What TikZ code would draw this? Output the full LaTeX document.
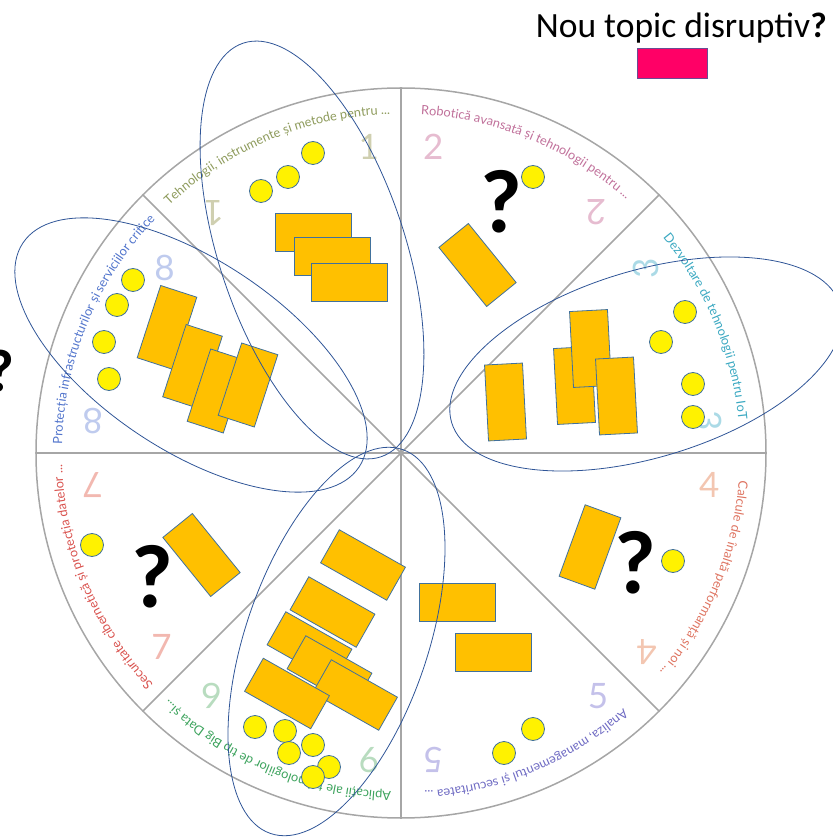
\documentclass[tikz,border=0pt]{standalone}
\usepackage{fontspec}
\setmainfont{Carlito}
\newfontfamily\arcfont{Lato}
\usetikzlibrary{shapes.geometric,decorations.text}

\definecolor{wheel}{HTML}{A6A6A6}
\definecolor{edge}{HTML}{41719C}
\definecolor{gold}{HTML}{FFC000}
\definecolor{petal}{HTML}{2F5597}
\definecolor{hot}{HTML}{FF0066}
\definecolor{hotedge}{HTML}{6A4C93}
\definecolor{tA}{HTML}{8E9B5C}
\definecolor{tB}{HTML}{C0709A}
\definecolor{tC}{HTML}{3AA8C1}
\definecolor{tD}{HTML}{DE7461}
\definecolor{tE}{HTML}{6F6BC3}
\definecolor{tF}{HTML}{3DA35D}
\definecolor{tG}{HTML}{D9534F}
\definecolor{tH}{HTML}{5275CC}
\definecolor{nA}{HTML}{CFCFB0}
\definecolor{nB}{HTML}{E6BCD0}
\definecolor{nC}{HTML}{ABDAE6}
\definecolor{nD}{HTML}{F3C6B1}
\definecolor{nE}{HTML}{C4C1EA}
\definecolor{nF}{HTML}{B8DCBF}
\definecolor{nG}{HTML}{F2B8B0}
\definecolor{nH}{HTML}{BFCBEE}

\tikzset{
  proj/.style={draw=edge, fill=gold, line width=0.8pt, minimum width=76pt, minimum height=38pt, inner sep=0pt},
  projv/.style={proj, minimum width=38pt, minimum height=76pt},
  spot/.style={circle, draw=edge, fill=yellow, line width=0.8pt, minimum size=23pt, inner sep=0pt},
  ask/.style={font=\fontsize{90}{90}\selectfont\bfseries, inner sep=0pt},
  num/.style={font=\arcfont\fontsize{35}{35}\selectfont, inner sep=0pt},
  petalring/.style={ellipse, draw=petal, line width=0.8pt, inner sep=0pt},
  spoke/.style={draw=wheel, line width=1.5pt},
}

\newcommand{\sectortext}[3]{%
  \path[decorate, decoration={text along path, text align=center,
      text={|\arcfont\fontsize{12.8}{14}\selectfont\color{#2}|#3}}]
    (#1+22.5:339) arc[start angle=#1+22.5, end angle=#1-22.5, radius=339];}

\begin{document}
\begin{tikzpicture}[x=1pt, y=1pt]
  \useasboundingbox (-401,-384) rectangle (431,453);

  \coordinate (hub) at (0,0);
  \draw[spoke] (hub) circle[radius=365];
  \foreach \a in {0,45,...,315}
    \draw[spoke] (hub) -- (\a:365);

  \sectortext{112.5}{tA}{Tehnologii, instrumente și metode pentru ...}
  \sectortext{67.5}{tB}{Robotică avansată și tehnologii pentru ...}
  \sectortext{22.5}{tC}{Dezvoltare de tehnologii pentru IoT}
  \sectortext{-22.5}{tD}{Calcule de înaltă performanță și noi ...}
  \sectortext{-67.5}{tE}{Analiza, managementul și securitatea ...}
  \sectortext{-112.5}{tF}{Aplicații ale tehnologiilor de tip Big Data și...}
  \sectortext{-157.5}{tG}{Securitate cibernetică și protecția datelor ...}
  \sectortext{157.5}{tH}{Protecția infrastructurilor și serviciilor critice}

  \node[num, text=nA]             (n1a) at (96:308)  {1};
  \node[num, text=nA, rotate=180] (n1b) at (128:304) {1};
  \node[num, text=nB]             (n2a) at (84:308)  {2};
  \node[num, text=nB, rotate=180] (n2b) at (51:310)  {2};
  \node[num, text=nC, rotate=90]  (n3a) at (37:307)  {3};
  \node[num, text=nC, rotate=-90] (n3b) at (6:310)   {3};
  \node[num, text=nD]             (n4a) at (-6:310)  {4};
  \node[num, text=nD, rotate=180] (n4b) at (-39:316) {4};
  \node[num, text=nE]             (n5a) at (-51:313) {5};
  \node[num, text=nE, rotate=180] (n5b) at (-84:309) {5};
  \node[num, text=nF]             (n6a) at (-96:309) {6};
  \node[num, text=nF, rotate=180] (n6b) at (-128:308) {6};
  \node[num, text=nG]             (n7a) at (-141:308) {7};
  \node[num, text=nG, rotate=180] (n7b) at (-174:310) {7};
  \node[num, text=nH]             (n8a) at (142:300) {8};
  \node[num, text=nH, rotate=180] (n8b) at (174:310) {8};

  \node[proj]                (r1a) at (-87.5,220.5) {};
  \node[proj]                (r1b) at (-68.5,196.5) {};
  \node[proj]                (r1c) at (-52,170.5)   {};
  \node[spot]                (d1a) at (-88,300)     {};
  \node[spot]                (d1b) at (-113,276)    {};
  \node[spot]                (d1c) at (-140,262)    {};

  \node[proj, rotate=-51]    (r2a) at (76.5,188)    {};
  \node[spot]                (d2a) at (132,276)     {};
  \node[ask]                 (q2)  at (100,251)     {?};

  \node[projv, rotate=3]     (r3a) at (104.5,51)    {};
  \node[projv, rotate=3]     (r3b) at (173.5,67.5)  {};
  \node[projv, rotate=3]     (r3c) at (189.5,104.5) {};
  \node[projv, rotate=3]     (r3d) at (215.5,57)    {};
  \node[spot]                (d3a) at (284,141)     {};
  \node[spot]                (d3b) at (260,111)     {};
  \node[spot]                (d3c) at (292,69)      {};
  \node[spot]                (d3d) at (292,36)      {};

  \node[projv, rotate=-20]   (r4a) at (189,-94)     {};
  \node[ask]                 (q4)  at (234,-110)    {?};
  \node[spot]                (d4a) at (272,-108)    {};

  \node[proj]                (r5a) at (56.5,-149.5) {};
  \node[proj]                (r5b) at (92.5,-199.5) {};
  \node[spot]                (d5a) at (132,-276)    {};
  \node[spot]                (d5b) at (103,-300)    {};

  \node[proj, rotate=-29.5]  (r6a) at (-38,-112)    {};
  \node[proj, rotate=-29.5]  (r6b) at (-68.5,-159)  {};
  \node[proj, rotate=-29.5]  (r6c) at (-91.5,-194)  {};
  \node[proj, rotate=-29.5]  (r6d) at (-71.5,-218)  {};
  \node[proj, rotate=-29.5]  (r6e) at (-46,-242)    {};
  \node[proj, rotate=-29.5]  (r6f) at (-114,-240.5) {};
  \node[spot]                (d6a) at (-146,-274)   {};
  \node[spot]                (d6b) at (-116,-278)   {};
  \node[spot]                (d6c) at (-88,-292)    {};
  \node[spot]                (d6d) at (-112,-300)   {};
  \node[spot]                (d6e) at (-72,-314)    {};
  \node[spot]                (d6f) at (-88,-324)    {};

  \node[proj, rotate=-51]    (r7a) at (-199.5,-102) {};
  \node[spot]                (d7a) at (-309,-92)    {};
  \node[ask]                 (q7)  at (-249,-124)   {?};

  \node[projv, rotate=-18]   (r8a) at (-234,125.5)  {};
  \node[projv, rotate=-18]   (r8b) at (-208.5,86.5) {};
  \node[projv, rotate=-18]   (r8c) at (-184,62)     {};
  \node[projv, rotate=-18]   (r8d) at (-153,68)     {};
  \node[spot]                (d8a) at (-268,173)    {};
  \node[spot]                (d8b) at (-284,148)    {};
  \node[spot]                (d8c) at (-297,111)    {};
  \node[spot]                (d8d) at (-292,74)     {};

  \node[ask, font=\fontsize{60}{60}\selectfont\bfseries] (q0) at (-401,82) {?};

  \node[petalring, minimum width=436pt, minimum height=186pt, rotate=-71.6] (petal1) at (-89,203)     {};
  \node[petalring, minimum width=404pt, minimum height=190pt, rotate=-33.7] (petal8) at (-210,98)    {};
  \node[petalring, minimum width=406pt, minimum height=187pt, rotate=16.8]  (petal3) at (245,89)     {};
  \node[petalring, minimum width=406pt, minimum height=182pt, rotate=71]    (petal6) at (-64.5,-188.5) {};

  \node[anchor=base east, inner sep=0pt, font=\fontsize{35.5}{35.5}\selectfont] (title) at (426,415) {Nou topic disruptiv{\bfseries ?}};
  \node[draw=hotedge, fill=hot, line width=0.8pt, minimum width=70pt, minimum height=30pt, inner sep=0pt] (newtopic) at (271.5,389.5) {};
\end{tikzpicture}
\end{document}
